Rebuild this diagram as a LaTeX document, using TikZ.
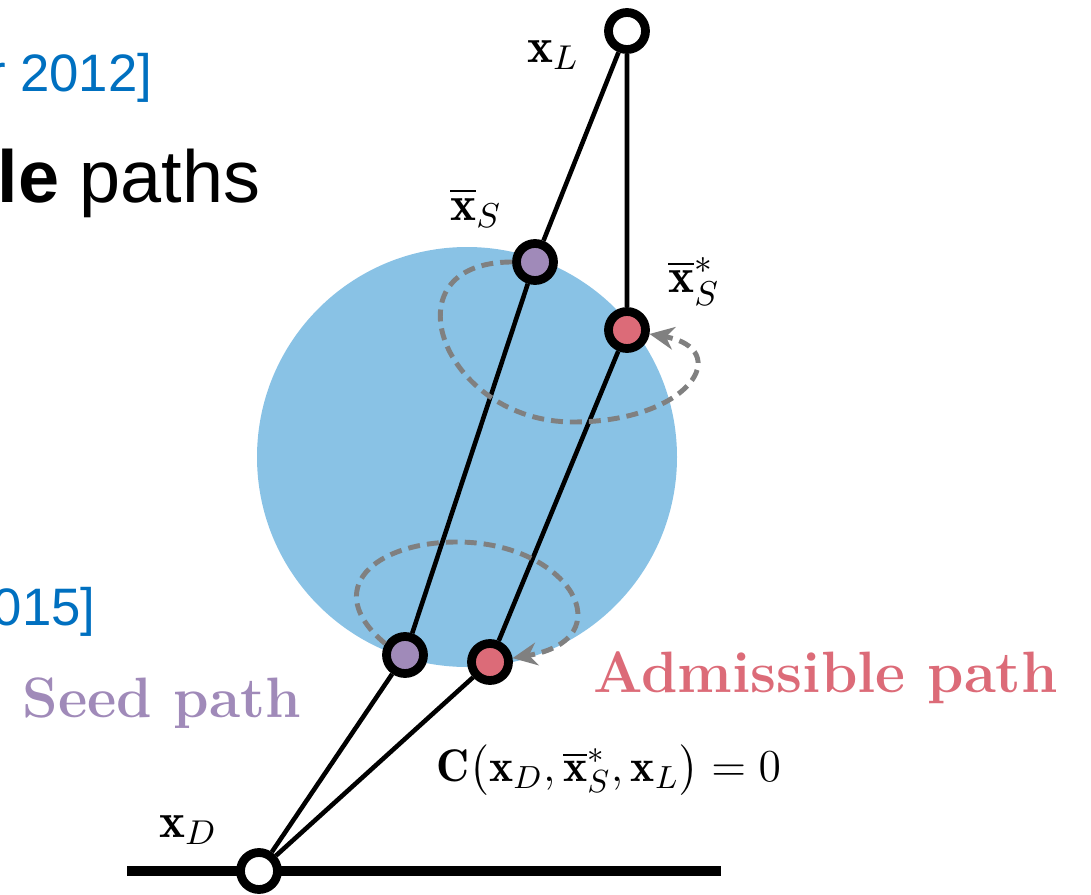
\RequirePackage{fix-cm}
\documentclass[tikz,border=0pt]{standalone}
\usepackage{amsmath}
\usepackage{fontspec}
\newfontfamily\arialfont{Liberation Sans}
\usetikzlibrary{arrows.meta}

\definecolor{diskblue}{HTML}{89C2E5}
\definecolor{seedpurple}{HTML}{A08AB9}
\definecolor{admred}{HTML}{DC6B78}
\definecolor{citeblue}{HTML}{0070C0}
\definecolor{orbitgray}{HTML}{808080}

\begin{document}
\begin{tikzpicture}[>={Stealth[length=7pt,width=6.5pt]},
        vtx/.style={draw,circle,line width=2.5pt,minimum size=0.37cm,inner sep=0pt},
        endpt/.style={vtx,fill=white},
        seedpt/.style={vtx,fill=seedpurple},
        admpt/.style={vtx,fill=admred},
        ray/.style={line width=1.3pt},
        orbit/.style={->,draw=orbitgray,line width=1.4pt,dash pattern=on 3.4pt off 2pt},
        lbl/.style={font=\fontsize{14}{16}\selectfont},
        cite/.style={font=\arialfont\fontsize{15}{18}\selectfont,text=citeblue,anchor=base east,inner sep=0pt},
        pathname/.style={font=\bfseries\fontsize{16.2}{20}\selectfont,anchor=base west,inner sep=0pt}]
        \useasboundingbox (0,0) rectangle (10.91,8.94);
        \clip (0,0) rectangle (10.91,8.94);

        \fill[diskblue] (4.67,4.37) circle (2.10);
        \coordinate (gl) at (1.27,0.23);
        \coordinate (gr) at (7.21,0.23);
        \draw[line width=3.1pt] (gl) -- (gr);

        \node[endpt] (xL) at (6.27,8.63) {};
        \node[seedpt] (xS) at (5.35,6.32) {};
        \node[admpt] (xSs) at (6.27,5.64) {};
        \node[seedpt] (seed) at (4.05,2.39) {};
        \node[admpt] (adm) at (4.90,2.32) {};
        \node[endpt] (xD) at (2.59,0.23) {};

        \draw[ray] (xL) -- (xS) -- (seed) -- (xD);
        \draw[ray] (xL) -- (xSs) -- (adm) -- (xD);

        % perturbation loops
        \coordinate (uplow) at (5.73,4.72);
        \draw[orbit] (xS.west) .. controls (3.83,6.32) and (4.43,4.72) .. (uplow)
            .. controls (6.9,4.72) and (7.35,5.45) .. (xSs);
        \coordinate (lowtop) at (4.57,3.52);
        \draw[orbit] (seed.150) .. controls (3.2,3.05) and (3.75,3.52) .. (lowtop)
            .. controls (5.7,3.52) and (6.25,2.55) .. (adm);

        \node[lbl] (lxL) at (5.53,8.39) {$\mathbf{x}_L$};
        \node[lbl] (lxS) at (4.76,6.86) {$\overline{\mathbf{x}}_S$};
        \node[lbl] (lxSs) at (6.94,6.13) {$\overline{\mathbf{x}}_S^*$};
        \node[lbl] (lxD) at (1.88,0.64) {$\mathbf{x}_D$};
        \node[lbl,font=\fontsize{13}{15}\selectfont] (eq) at (6.09,1.24) {$\mathbf{C}\big(\mathbf{x}_D,\overline{\mathbf{x}}_S^*,\mathbf{x}_L\big)=0$};

        \node[pathname,text=seedpurple] (seedname) at (0.22,1.77) {Seed path};
        \node[pathname,text=admred,font=\bfseries\fontsize{16.6}{20}\selectfont] (admname) at (5.93,2.02) {Admissible path};

        \node[font=\arialfont\fontsize{21}{25}\selectfont,anchor=base east,inner sep=0pt] (title) at (2.61,6.92) {\textbf{le} paths};
        \node[cite] (cite1) at (1.53,8.02) {r 2012]};
        \node[cite] (cite2) at (0.96,2.69) {015]};
    \end{tikzpicture}
\end{document}
